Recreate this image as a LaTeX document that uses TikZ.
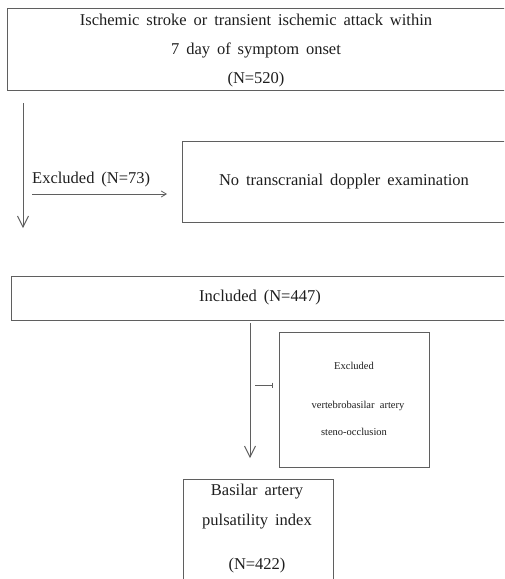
\documentclass[tikz,border=0pt]{standalone}
\usepackage{fontspec}
\setmainfont{Liberation Serif}
\usetikzlibrary{arrows.meta}
\definecolor{linegray}{RGB}{95,95,95}
\definecolor{txt}{RGB}{30,30,30}
\newcommand{\bigtxt}{\fontsize{16.5}{18}\selectfont\spaceskip=0.42em\relax}
\newcommand{\smalltxt}{\fontsize{10.5}{12}\selectfont\spaceskip=0.5em\relax}
\begin{document}
\begin{tikzpicture}[x=1pt,y=-1pt,
  box/.style={draw=linegray,line width=1.1pt,rectangle,inner sep=0pt,anchor=north west},
  txtn/.style={inner sep=0pt,text=txt,font=\bigtxt},
  small/.style={inner sep=0pt,text=txt,font=\smalltxt},
  arr/.style={draw=linegray,line width=0.9pt,-{Straight Barb[length=11pt,width=11pt,line width=0.9pt]}},
  sarr/.style={draw=linegray,line width=0.8pt,-{Straight Barb[length=5pt,width=6pt]}}]
\useasboundingbox (0,0) rectangle (504,579);
\begin{scope}
\clip (0,0) rectangle (504,579);
\node[box,minimum width=498pt,minimum height=82pt] (b1) at (7,8) {};
\node[box,minimum width=324pt,minimum height=81pt] (b2) at (182,141) {};
\node[box,minimum width=498pt,minimum height=44pt] (b3) at (11,276) {};
\node[box,minimum width=150pt,minimum height=135pt] (b4) at (279,332) {};
\node[box,minimum width=150pt,minimum height=130pt] (b5) at (183,479) {};
\end{scope}
\node[txtn] (t1a) at (256,20) {Ischemic stroke or transient ischemic attack within};
\node[txtn] (t1b) at (256,50) {7 day of symptom onset};
\node[txtn] (t1c) at (256,80) {(N=520)};
\node[txtn] (t2) at (344,182) {No transcranial doppler examination};
\node[txtn,anchor=west] (ex1) at (32,180) {Excluded (N=73)};
\node[txtn] (t3) at (260,298) {Included (N=447)};
\node[small] (t4a) at (354,366) {Excluded};
\node[small] (t4b) at (358,406) {vertebrobasilar artery};
\node[small] (t4c) at (354,432) {steno-occlusion};
\node[txtn] (t5a) at (257,492) {Basilar artery};
\node[txtn] (t5b) at (257,522) {pulsatility index};
\node[txtn] (t5c) at (257,566) {(N=422)};
\coordinate (a1s) at (23,103);
\coordinate (a1e) at (23,228);
\coordinate (a2s) at (32,194);
\coordinate (a2e) at (167,194);
\coordinate (a3s) at (250,323);
\coordinate (a3e) at (250,458);
\coordinate (a4s) at (255,385);
\coordinate (a4e) at (273,385);
\draw[arr] (a1s) -- (a1e);
\draw[sarr] (a2s) -- (a2e);
\draw[arr] (a3s) -- (a3e);
\draw[draw=linegray,line width=0.8pt,-{Bar[width=5pt]}] (a4s) -- (a4e);
\end{tikzpicture}
\end{document}
